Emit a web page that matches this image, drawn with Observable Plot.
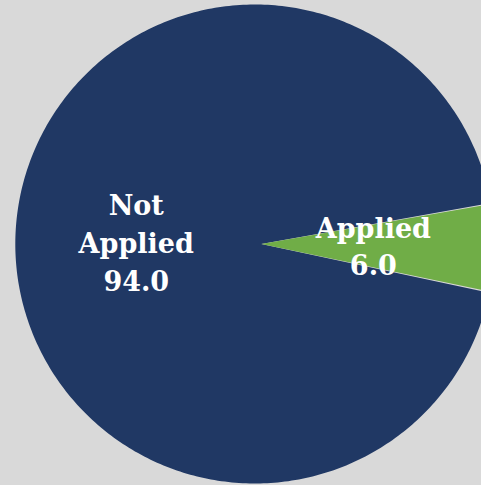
<!DOCTYPE html>
<html><head><meta charset="utf-8">
<script src="https://cdn.jsdelivr.net/npm/d3@7"></script>
<script src="https://cdn.jsdelivr.net/npm/@observablehq/plot@0.6"></script>
<style>html,body{margin:0;padding:0;background:#d9d9d9;overflow:hidden;}</style>
</head><body><div id="chart"></div>
<script>
// Data
const categories = ["Applied", "Not Applied"];
const values = [6.0, 94.0];
const colors = ["#70AD47", "#203864"];

// Layout
const W = 481, H = 485;
const R = 239.5, CX = 254.3, CY = 243.5;
const startDeg = 80.13;
const explode = 0.027;
const labelR = 0.495;

const a0 = startDeg * Math.PI / 180;
const arcs = d3.pie().sort(null).startAngle(a0).endAngle(a0 + 2 * Math.PI)(values);

// exploded apex of the first slice
const m0 = (arcs[0].startAngle + arcs[0].endAngle) / 2;
const apex = {x: explode * Math.sin(m0), y: explode * Math.cos(m0)};

const points = [];
const drawOrder = [1, 0];
for (const i of drawOrder) {
  const a = arcs[i];
  const off = i === 0 ? explode : 0;
  const mid = (a.startAngle + a.endAngle) / 2;
  const ox = off * Math.sin(mid), oy = off * Math.cos(mid);
  const cat = categories[i];
  points.push({cat, x: apex.x, y: apex.y});
  const N = 400;
  for (let k = 0; k <= N; k++) {
    const t = a.startAngle + (a.endAngle - a.startAngle) * k / N;
    points.push({cat, x: ox + Math.sin(t), y: oy + Math.cos(t)});
  }
  points.push({cat, x: apex.x, y: apex.y});
}

const labels = arcs.map((a, i) => {
  const mid = (a.startAngle + a.endAngle) / 2;
  return {
    x: labelR * Math.sin(mid),
    y: labelR * Math.cos(mid) + 0.006,
    text: categories[i].replace(" ", "\n") + "\n" + values[i].toFixed(1)
  };
});

const chart = Plot.plot({
  width: W, height: H, margin: 0,
  style: {background: "transparent", overflow: "hidden"},
  x: {domain: [-CX / R, (W - CX) / R], range: [0, W], axis: null},
  y: {domain: [-(H - CY) / R, CY / R], range: [H, 0], axis: null},
  color: {domain: categories, range: colors},
  marks: [
    Plot.line(points, {x: "x", y: "y", z: "cat", fill: "cat", stroke: "none", curve: "linear"}),
    Plot.text(labels, {x: "x", y: "y", text: "text", fill: "white", fontSize: 27, fontWeight: "bold",
      fontFamily: "DejaVu Serif", lineHeight: 1.4, textAnchor: "middle", lineAnchor: "middle"})
  ]
});
document.getElementById("chart").appendChild(chart);
</script>
</body></html>
